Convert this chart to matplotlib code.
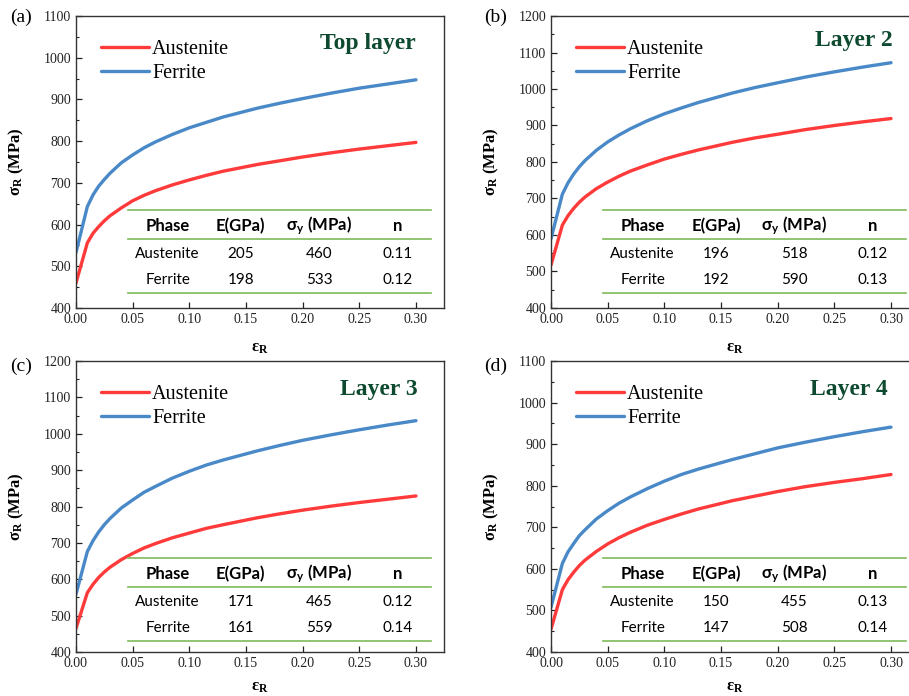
import matplotlib

matplotlib.use("Agg")
import matplotlib.pyplot as plt

plt.rcParams["font.family"] = "Liberation Serif"
plt.rcParams["mathtext.fontset"] = "custom"
plt.rcParams["mathtext.rm"] = "Liberation Serif"
plt.rcParams["mathtext.bf"] = "Liberation Serif:bold"
plt.rcParams["mathtext.it"] = "Liberation Serif:italic"
plt.rcParams["mathtext.sf"] = "Lato:bold"

# strain points
strain = [0.0, 0.01, 0.015, 0.02, 0.025, 0.03, 0.04, 0.05, 0.06, 0.07, 0.085,
          0.10, 0.115, 0.13, 0.16, 0.18, 0.20, 0.225, 0.25, 0.275, 0.30]

# flow stress, MPa
top_aus = [460, 556, 579, 595, 609, 621, 640, 657, 670, 681, 695, 707, 718, 728, 744, 753, 762, 772, 781, 789, 797]
top_fer = [533, 643, 671, 692, 708, 723, 748, 767, 784, 798, 816, 832, 845, 858, 879, 891, 902, 915, 927, 937, 947]
l2_aus = [518, 627, 653, 673, 690, 704, 727, 745, 761, 775, 792, 808, 821, 833, 854, 866, 876, 889, 900, 910, 919]
l2_fer = [590, 712, 743, 767, 787, 804, 832, 855, 874, 891, 913, 932, 948, 963, 989, 1004, 1017, 1033, 1047, 1060, 1072]
l3_aus = [465, 563, 586, 605, 620, 633, 654, 671, 686, 698, 714, 727, 740, 750, 769, 780, 790, 801, 811, 820, 829]
l3_fer = [559, 676, 706, 730, 750, 767, 796, 818, 839, 855, 878, 897, 914, 928, 953, 968, 982, 997, 1011, 1024, 1036]
l4_aus = [455, 550, 574, 592, 608, 621, 642, 660, 675, 688, 705, 719, 732, 744, 764, 775, 786, 798, 808, 817, 827]
l4_fer = [508, 613, 641, 661, 680, 694, 720, 740, 758, 773, 793, 811, 827, 840, 863, 877, 891, 905, 918, 930, 941]

titles = ["Top layer", "Layer 2", "Layer 3", "Layer 4"]
panel_tags = ["(a)", "(b)", "(c)", "(d)"]
y_tops = [1100, 1200, 1200, 1100]

# table contents: (E GPa, sigma_y MPa, n)
tab_aus = [("205", "460", "0.11"), ("196", "518", "0.12"), ("171", "465", "0.12"), ("150", "455", "0.13")]
tab_fer = [("198", "533", "0.12"), ("192", "590", "0.13"), ("161", "559", "0.14"), ("147", "508", "0.14")]

curves = [(top_aus, top_fer), (l2_aus, l2_fer), (l3_aus, l3_fer), (l4_aus, l4_fer)]

RED = "#FF3A3A"
BLUE = "#4A89C8"
GREEN_LINE = "#7FBA5A"
TITLE_GREEN = "#0E4A30"

fig = plt.figure(figsize=(9.09, 6.96), dpi=100)

W = 0.4048
positions = [
    (0.0836, 0.5575, W, 0.4195),
    (0.6062, 0.5575, W, 0.4195),
    (0.0836, 0.0632, W, 0.4181),
    (0.6062, 0.0632, W, 0.4181),
]
tag_pos = [(0.011, 0.975), (0.533, 0.975), (0.011, 0.473), (0.533, 0.473)]
title_xy = [(0.924, 0.907), (0.927, 0.915), (0.928, 0.903), (0.914, 0.903)]
xlab_y = [-0.108, -0.108, -0.094, -0.094]
# table line heights and row heights (axes fraction)
table_lines = [(0.335, 0.235, 0.050), (0.335, 0.235, 0.050), (0.322, 0.222, 0.039), (0.322, 0.222, 0.039)]
table_rows = [(0.281, 0.185, 0.096), (0.281, 0.185, 0.096), (0.268, 0.173, 0.0835), (0.268, 0.173, 0.0835)]
col_x = [0.249, 0.448, 0.661, 0.874]

for i in range(4):
    ax = fig.add_axes(positions[i])
    aus, fer = curves[i]
    ax.plot(strain, aus, color=RED, lw=2.4, label="Austenite", solid_capstyle="round", solid_joinstyle="round")
    ax.plot(strain, fer, color=BLUE, lw=2.4, label="Ferrite", solid_capstyle="round", solid_joinstyle="round")

    ax.set_xlim(0, 0.3247)
    ax.set_ylim(400, y_tops[i])
    ax.set_xticks([0.0, 0.05, 0.10, 0.15, 0.20, 0.25, 0.30])
    ax.set_xticklabels(["0.00", "0.05", "0.10", "0.15", "0.20", "0.25", "0.30"])
    ax.set_yticks(range(400, y_tops[i] + 1, 100))
    ax.set_yticks(range(450, y_tops[i], 100), minor=True)
    ax.tick_params(which="both", direction="in", labelsize=10, colors="#222222")
    ax.tick_params(which="major", length=4, width=0.9)
    ax.tick_params(which="minor", length=2.5, width=0.8)
    for sp in ax.spines.values():
        sp.set_color("#333333")
        sp.set_linewidth(1.0)

    ax.set_ylabel(r"$\mathbf{\sigma_R}$ (MPa)", fontsize=12, fontweight="bold")
    ax.yaxis.set_label_coords(-0.136, 0.5)
    ax.set_xlabel(r"$\mathbf{\varepsilon_R}$", fontsize=12, fontweight="bold")
    ax.xaxis.set_label_coords(0.5, xlab_y[i])

    ax.legend(loc="upper left", bbox_to_anchor=(0.045, 0.945), frameon=False, fontsize=14.5,
              handlelength=2.4, handletextpad=0.15, labelspacing=0.22, borderaxespad=0)

    ax.text(title_xy[i][0], title_xy[i][1], titles[i], transform=ax.transAxes, ha="right", va="center",
            fontsize=17, fontweight="bold", color=TITLE_GREEN)

    # parameter table
    for yl in table_lines[i]:
        ax.plot([0.14, 0.965], [yl, yl], transform=ax.transAxes, color=GREEN_LINE, lw=1.2, clip_on=False)
    hy, ay, fy = table_rows[i]
    headers = ["Phase", "E(GPa)", r"$\mathsf{\sigma_y}$ (MPa)", "n"]
    for x, h in zip(col_x, headers):
        ax.text(x, hy, h, transform=ax.transAxes, ha="center", va="center", fontsize=12,
                fontweight="bold", family="Lato")
    for x, v in zip(col_x, ("Austenite",) + tab_aus[i]):
        ax.text(x, ay, v, transform=ax.transAxes, ha="center", va="center", fontsize=11, family="Lato")
    for x, v in zip(col_x, ("Ferrite",) + tab_fer[i]):
        ax.text(x, fy, v, transform=ax.transAxes, ha="center", va="center", fontsize=11, family="Lato")

    fig.text(tag_pos[i][0], tag_pos[i][1], panel_tags[i], fontsize=14, ha="left", va="center")

fig.savefig("out.png", dpi=100)
